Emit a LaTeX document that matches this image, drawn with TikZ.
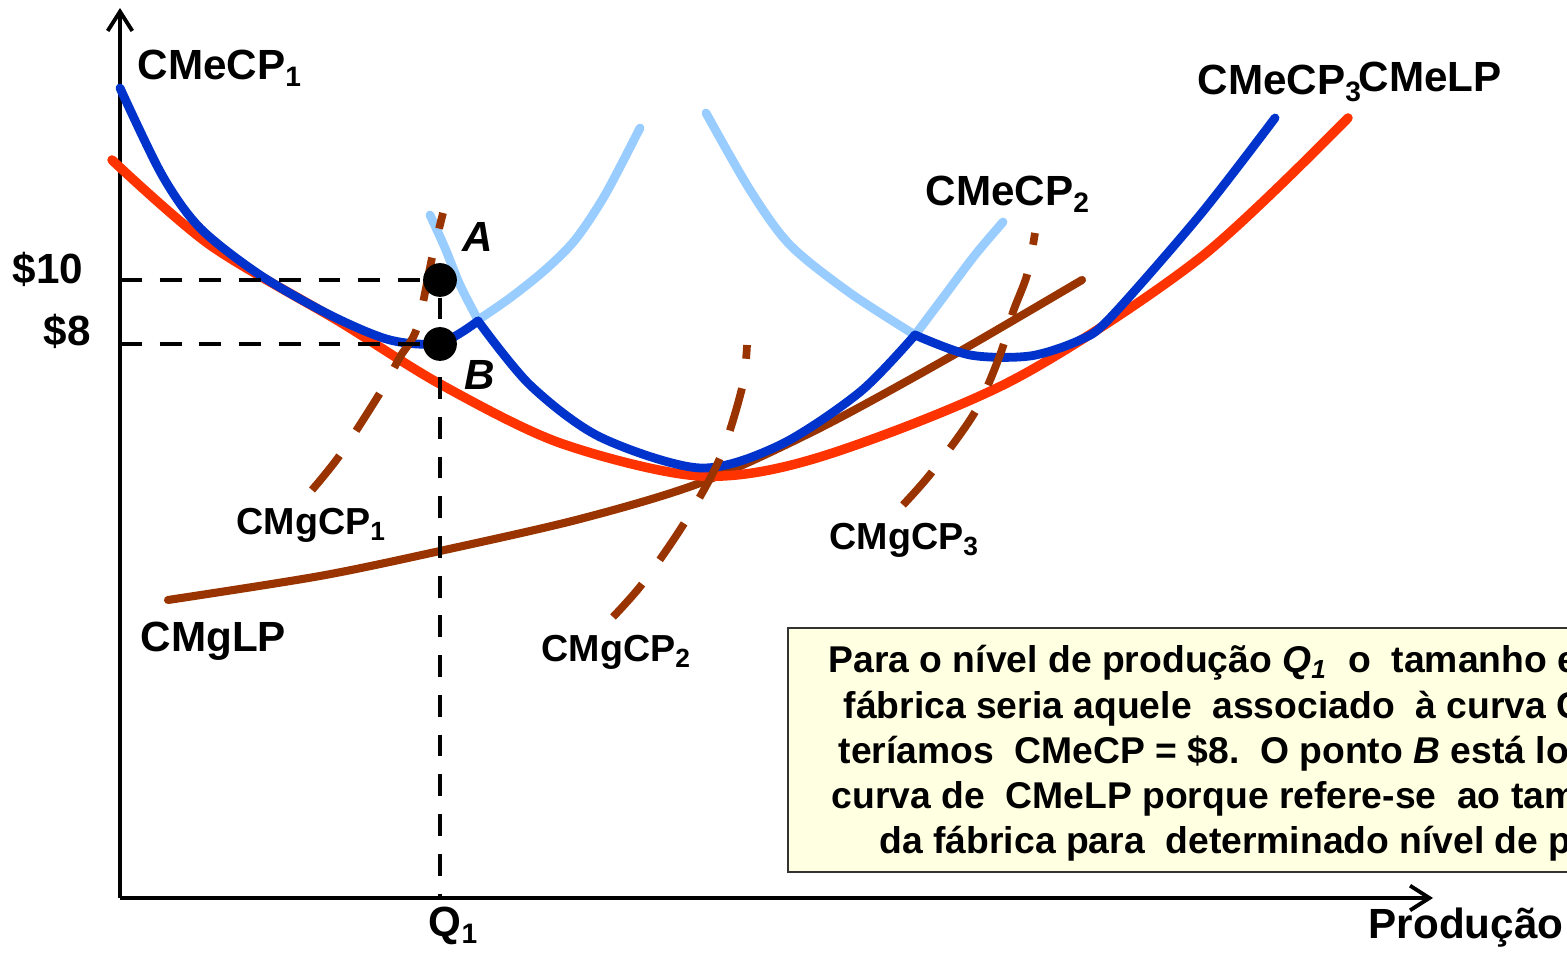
\documentclass[tikz,border=0pt]{standalone}
\usepackage{fontspec}
\setmainfont{Liberation Sans}
\usetikzlibrary{positioning, arrows.meta}
\definecolor{cmelp}{HTML}{FF3300}
\definecolor{cmecp}{HTML}{0033CC}
\definecolor{cmecplight}{HTML}{99CCFF}
\definecolor{cmg}{HTML}{993300}
\definecolor{boxfill}{HTML}{FFFFE1}
\tikzset{
    costcurve/.style={line width=2.5pt, line cap=round, line join=round},
    mgdash/.style={line width=2.2pt, color=cmg, dash pattern=on 12.5pt off 8.5pt},
    guide/.style={line width=1.1pt, dash pattern=on 6.2pt off 5.1pt},
    axis/.style={line width=1.1pt, -{Straight Barb[length=5.5pt, width=7pt, line width=1.1pt]}},
    lbl/.style={font=\bfseries\fontsize{12}{14}\selectfont, inner sep=0pt},
    mglbl/.style={font=\bfseries\fontsize{10.7}{12}\selectfont, inner sep=0pt},
    boxtxt/.style={font=\bfseries\fontsize{10.6}{12.8}\selectfont, inner sep=0pt, anchor=base west},
    dot/.style={circle, fill=black, minimum size=9.6pt, inner sep=0pt},
}

\begin{document}
\begin{tikzpicture}[x=0.01cm, y=-0.01cm]
    \useasboundingbox (0,0) rectangle (1567,962);
    \clip (0,0) rectangle (1567,962);

    % axes
    \coordinate (origin) at (120,898);
    \coordinate (ytop) at (120,8);
    \coordinate (xend) at (1433,898);
    \draw[axis] (origin) -- (ytop);
    \draw[axis] (origin) -- (xend);

    % CMgLP
    \draw[costcurve, color=cmg, line width=2.3pt] plot[smooth] coordinates {
        (168,600) (320,576) (440,551) (580,519) (700,483) (820,428) (950,357) (1082,280)};

    % CMeLP
    \draw[costcurve, color=cmelp, line width=2.7pt] plot[smooth] coordinates {
        (112,160) (210,245) (340,322) (440,384) (560,443) (700,476)
        (820,457) (1013,380) (1200,258) (1348,118)};

    % CMeCP fora da envoltoria
    \draw[costcurve, color=cmecplight] plot[smooth] coordinates {
        (430,215) (445,248) (460,285) (478,320)};
    \draw[costcurve, color=cmecplight] plot[smooth] coordinates {
        (478,320) (510,298) (545,270) (575,240) (605,195) (640,128)};
    \draw[costcurve, color=cmecplight] plot[smooth] coordinates {
        (706,113) (750,190) (790,245) (850,293) (915,335)};
    \draw[costcurve, color=cmecplight] plot[smooth] coordinates {
        (915,335) (945,295) (975,255) (1003,222)};

    % envoltoria CMeCP
    \draw[costcurve, color=cmecp] plot[smooth] coordinates {
        (120,88) (162,175) (200,228) (260,275) (330,315) (390,340) (440,343) (478,321)};
    \draw[costcurve, color=cmecp] plot[smooth] coordinates {
        (478,321) (530,385) (600,437) (700,468) (780,445) (860,392) (915,335)};
    \draw[costcurve, color=cmecp] plot[smooth] coordinates {
        (915,335) (970,355) (1030,356) (1080,340) (1110,318) (1200,215) (1275,118)};

    % CMgCP
    \draw[mgdash] plot[smooth] coordinates {
        (312,490) (340,455) (380,393) (400,357) (417,328) (432,258) (443,213)};
    \draw[mgdash] plot[smooth] coordinates {
        (613,617) (643,583) (685,522) (720,458) (742,388) (747,345)};
    \draw[mgdash] plot[smooth] coordinates {
        (903,505) (932,472) (975,412) (1000,355) (1013,312) (1027,275) (1035,233)};

    % pontos A e B
    \node[dot] (ptA) at (440,280) {};
    \node[dot] (ptB) at (440,344) {};
    \coordinate (y10) at (120,280);
    \coordinate (y8) at (120,344);
    \coordinate (q1) at (440,898);
    \draw[guide] (y10) -- (ptA);
    \draw[guide] (y8) -- (ptB);
    \draw[guide] (ptA) -- (q1);

    % rotulos
    \node[lbl, anchor=base west] (ten) at (12,284) {\$10};
    \node[lbl, anchor=base west] (eight) at (43,346) {\$8};
    \node[lbl, anchor=base west] (labA) at (462,252) {\itshape A};
    \node[lbl, anchor=base west] (labB) at (464,390) {\itshape B};
    \node[lbl, anchor=base west] (q1lbl) at (428,937) {Q\textsubscript{1}};
    \node[lbl, anchor=base west] (prod) at (1368,939) {Produção};
    \node[lbl, anchor=base west] (cmecp1) at (137,80) {CMeCP\textsubscript{1}};
    \node[lbl, anchor=base west] (cmecp2) at (925,206) {CMeCP\textsubscript{2}};
    \node[lbl, anchor=base west] (cmecp3) at (1197,95) {CMeCP\textsubscript{3}};
    \node[lbl, anchor=base west] (cmelp) at (1358,92) {CMeLP};
    \node[lbl, anchor=base west] (cmglp) at (140,652) {CMgLP};
    \node[mglbl, anchor=base west] (cmgcp1) at (236,535) {CMgCP\textsubscript{1}};
    \node[mglbl, anchor=base west] (cmgcp2) at (541,662) {CMgCP\textsubscript{2}};
    \node[mglbl, anchor=base west] (cmgcp3) at (829,550) {CMgCP\textsubscript{3}};

    % quadro de texto
    \draw[line width=0.7pt, draw=black!80, fill=boxfill] (788,628) rectangle (1640,872);
    \foreach \xx/\yy/\txt [count=\i] in {
        828/673/{Para o nível de produção \textit{Q}\textsubscript{\textit{1}}\ \ o\ \ tamanho eficiente da},
        843/719/{fábrica seria aquele\ \ associado\ \ à curva CMeCP\textsubscript{1}},
        838/764/{teríamos\ \ CMeCP = \$8.\ \ O ponto \textit{B} está localizado},
        831/809/{curva de\ \ CMeLP porque refere-se\ \ ao tamanho},
        879/854/{da fábrica para\ \ determinado nível de produção}}
        \node[boxtxt] (boxline\i) at (\xx,\yy) {\txt};
\end{tikzpicture}
\end{document}
